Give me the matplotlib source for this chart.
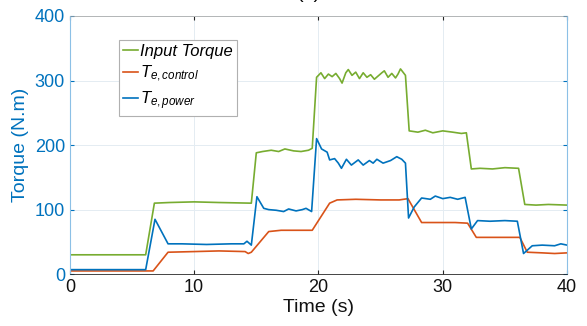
import numpy as np
from matplotlib import pyplot as plt

plt.rcParams['font.family'] = ['Liberation Sans', 'DejaVu Sans']
plt.rcParams['mathtext.fontset'] = 'custom'
plt.rcParams['mathtext.it'] = 'Liberation Sans:italic'
plt.rcParams['mathtext.rm'] = 'Liberation Sans'

# ---------------- data (time in s, torque in N.m) ----------------
t_input = [0, 6.1, 6.8, 8.0, 10.0, 12.0, 14.6, 15.0, 15.5, 16.2, 16.8, 17.3, 18.0, 18.6,
           19.2, 19.5, 19.85, 20.2, 20.5, 20.8, 21.1, 21.4, 21.7, 21.9, 22.2, 22.4, 22.7,
           23.0, 23.3, 23.6, 23.9, 24.2, 24.5, 24.8, 25.1, 25.3, 25.6, 25.9, 26.2, 26.4,
           26.6, 26.8, 27.0, 27.3, 28.0, 28.6, 29.2, 30.0, 30.8, 31.5, 31.9, 32.3, 33.0,
           34.0, 35.0, 36.1, 36.6, 37.5, 38.5, 40.0]
input_torque = [30, 30, 110, 111, 112, 111, 110, 188, 190, 192, 190, 194, 191, 190,
                192, 195, 305, 312, 303, 310, 306, 311, 303, 296, 312, 317, 308,
                313, 303, 312, 305, 309, 302, 307, 312, 315, 305, 311, 304, 310,
                318, 313, 308, 222, 220, 223, 219, 222, 220, 218, 219, 163, 164,
                163, 165, 164, 108, 107, 108, 107]

t_control = [0, 6.7, 7.9, 10.0, 12.0, 14.1, 14.35, 14.6, 16.0, 17.0, 18.5, 19.5, 20.9,
             21.5, 23.0, 25.0, 26.5, 27.2, 28.3, 29.5, 31.0, 32.0, 32.7, 34.0, 36.2,
             36.8, 38.0, 39.0, 40.0]
te_control = [5, 5, 34, 35, 36, 35, 32, 34, 66, 68, 68, 68, 110,
              115, 116, 115, 115, 117, 80, 80, 80, 79, 57, 57, 57,
              34, 33, 32, 33]

t_power = [0, 6.1, 6.85, 7.9, 9.0, 11.0, 13.0, 14.0, 14.25, 14.6, 15.05, 15.6, 16.0,
           16.6, 17.2, 17.6, 18.2, 18.7, 19.0, 19.45, 19.85, 20.25, 20.7, 20.9, 21.3,
           21.6, 21.85, 22.25, 22.65, 23.2, 23.6, 24.1, 24.4, 24.7, 25.2, 25.8, 26.3,
           26.7, 27.0, 27.25, 27.7, 28.3, 29.0, 29.4, 30.0, 30.6, 31.2, 31.8, 32.3, 32.8,
           33.8, 35.0, 36.0, 36.5, 37.2, 38.0, 39.0, 39.5, 40.0]
te_power = [7, 7, 85, 47, 47, 46, 47, 47, 51, 45, 120, 102, 100,
            99, 97, 101, 98, 100, 102, 97, 210, 194, 189, 177, 179,
            172, 164, 178, 169, 177, 169, 176, 172, 178, 172, 176, 182,
            178, 172, 87, 104, 118, 116, 121, 117, 119, 116, 119, 70, 83,
            82, 83, 82, 32, 44, 45, 44, 47, 45]

x_ticks = [0, 10, 20, 30, 40]
y_ticks = [0, 100, 200, 300, 400]

c_green = '#77AC30'
c_orange = '#D95319'
c_blue = '#0072BD'

fig = plt.figure(figsize=(5.87, 3.26), dpi=100)
ax = fig.add_axes([0.119, 0.159, 0.847, 0.792])

ax.plot(t_input, input_torque, color=c_green, lw=1.2, label='Input Torque')
ax.plot(t_control, te_control, color=c_orange, lw=1.2, label=r'$T_{e,control}$')
ax.plot(t_power, te_power, color=c_blue, lw=1.2, label=r'$T_{e,power}$')

ax.set_xlim(0, 40)
ax.set_ylim(0, 400)
ax.set_xticks(x_ticks)
ax.set_yticks(y_ticks)
ax.grid(True, color='#e4ecf2', lw=0.7)
ax.set_axisbelow(True)

ax.tick_params(direction='in', length=3, labelsize=13, top=True, right=True)
ax.tick_params(axis='y', colors=c_blue, labelcolor=c_blue)
ax.tick_params(axis='x', colors='#262626', labelcolor='#111111')
for s in ['left', 'right']:
    ax.spines[s].set_color('#8cc0e6')
    ax.spines[s].set_linewidth(0.8)
ax.spines['bottom'].set_color('#262626')
ax.spines['bottom'].set_linewidth(0.6)
ax.spines['top'].set_color('#a0a0a0')
ax.spines['top'].set_linewidth(0.5)

ax.set_xlabel('Time (s)', fontsize=14, labelpad=2, color='#111111')
ax.set_ylabel('Torque (N.m)', fontsize=14, color=c_blue, labelpad=4)

leg = ax.legend(loc='upper left', bbox_to_anchor=(0.082, 0.94), fontsize=12,
                handlelength=0.9, handletextpad=0.1, borderpad=0.25,
                labelspacing=0.3, fancybox=False, framealpha=1)
leg.get_frame().set_edgecolor('#b0b0b0')
leg.get_frame().set_linewidth(0.8)
for txt in leg.get_texts():
    txt.set_style('italic')

fig.text(0.526, 1.006, '(a)', ha='center', va='baseline', fontsize=14)

fig.savefig('out.png', dpi=100)
